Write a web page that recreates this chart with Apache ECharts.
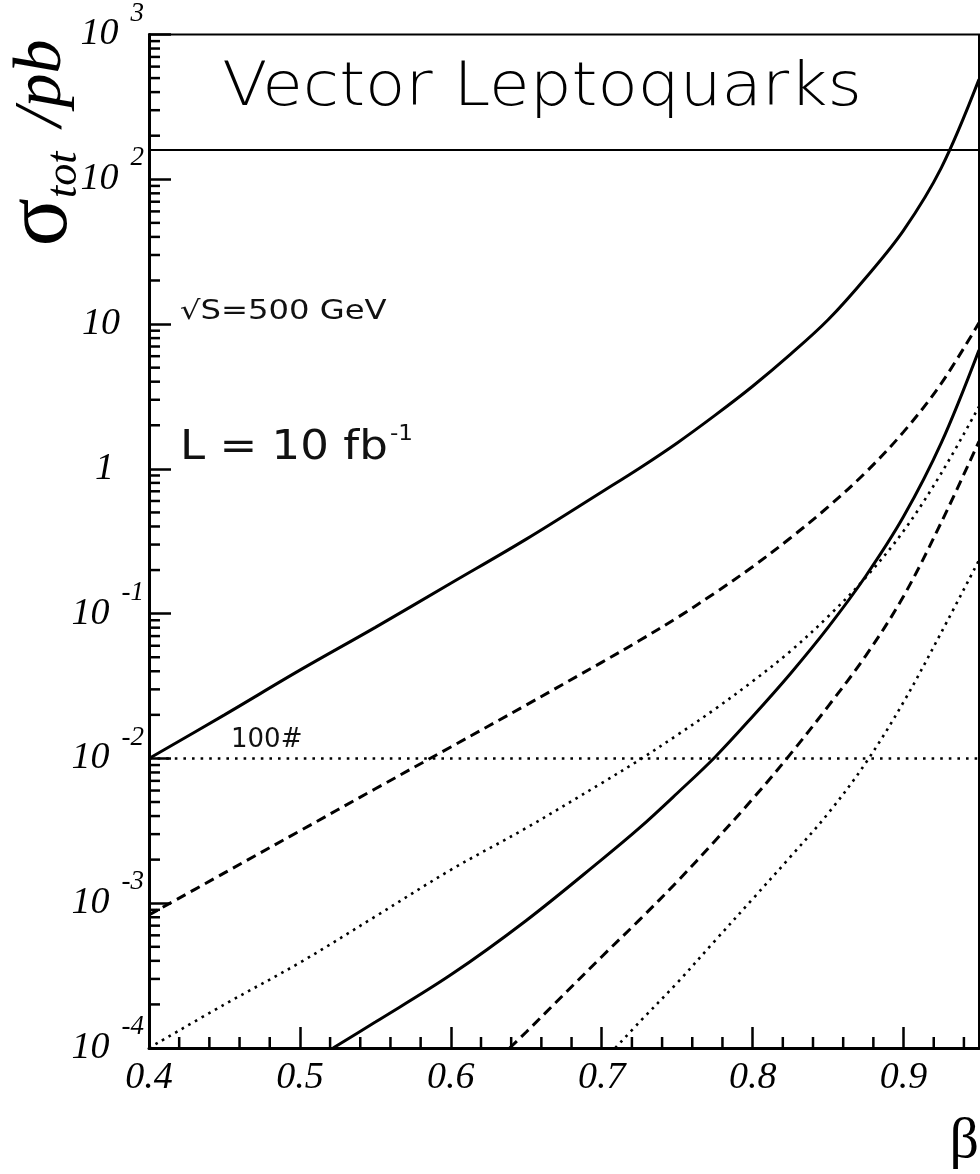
<!DOCTYPE html>
<html lang="en">
<head>
<meta charset="UTF-8">
<title>Vector Leptoquarks</title>
<script src="https://cdn.jsdelivr.net/npm/echarts@6/dist/echarts.min.js"></script>
<style>
  html, body { margin: 0; padding: 0; background: #fff; }
  #main { width: 980px; height: 1174px; }
</style>
</head>
<body>
<div id="main"></div>
<script type="text/javascript">
// beta values and sigma_tot (pb)
var betaUpper   = [0.40, 0.45, 0.50, 0.55, 0.60, 0.65, 0.70, 0.725, 0.75, 0.775, 0.80, 0.825, 0.85, 0.875, 0.90, 0.925, 0.95];
var solidUpper  = [0.0100, 0.0200, 0.0407, 0.0804, 0.162, 0.327, 0.692, 1.01, 1.51, 2.34, 3.72, 6.17, 10.7, 20.9, 44.4, 120, 490];
var dashedUpper = [8.3e-4, 1.62e-3, 3.16e-3, 6.17e-3, 0.0120, 0.0234, 0.0461, 0.0652, 0.0938, 0.139, 0.211, 0.333, 0.546, 0.948, 1.80, 3.89, 10.2];
var dottedUpper = [1.0e-4, 2.0e-4, 3.89e-4, 8.1e-4, 1.70e-3, 3.31e-3, 6.76e-3, 9.77e-3, 0.0145, 0.0219, 0.0341, 0.055, 0.0955, 0.178, 0.372, 0.933, 2.69];

var betaSolidLower = [0.522, 0.55, 0.60, 0.65, 0.70, 0.725, 0.75, 0.775, 0.80, 0.825, 0.85, 0.875, 0.90, 0.925, 0.95];
var solidLower     = [1.0e-4, 1.51e-4, 3.2e-4, 7.6e-4, 2.0e-3, 3.31e-3, 5.75e-3, 0.0102, 0.0195, 0.0385, 0.0804, 0.182, 0.468, 1.51, 6.61];

var betaDashedLower = [0.639, 0.65, 0.70, 0.725, 0.75, 0.775, 0.80, 0.825, 0.85, 0.875, 0.90, 0.925, 0.95];
var dashedLower     = [1.0e-4, 1.29e-4, 4.27e-4, 7.67e-4, 1.41e-3, 2.69e-3, 5.25e-3, 0.0107, 0.0229, 0.0513, 0.132, 0.427, 1.55];

var betaDottedLower = [0.709, 0.725, 0.75, 0.775, 0.80, 0.825, 0.85, 0.875, 0.90, 0.925, 0.95];
var dottedLower     = [1.0e-4, 1.51e-4, 2.82e-4, 5.5e-4, 1.07e-3, 2.09e-3, 4.17e-3, 9.33e-3, 0.0245, 0.0741, 0.234];

var eventLevel = 0.01;      // 100 events at 10 fb^-1
var titleBoxFloor = 160;    // lower edge of the title box

var xMinorTicks = [0.42, 0.44, 0.46, 0.48, 0.52, 0.54, 0.56, 0.58, 0.62, 0.64, 0.66, 0.68,
                   0.72, 0.74, 0.76, 0.78, 0.82, 0.84, 0.86, 0.88, 0.92, 0.94];
var yMinorTicks = [];
for (var e = -4; e < 3; e++) {
  for (var k = 2; k <= 9; k++) yMinorTicks.push(k * Math.pow(10, e));
}

function pairs(xs, ys) {
  var out = [];
  for (var i = 0; i < xs.length; i++) out.push([xs[i], ys[i]]);
  return out;
}

var dashPattern = { solid: 'solid', dashed: [10, 6], dotted: [2.6, 5] };

function curve(name, xs, ys, kind) {
  return {
    name: name, type: 'line', data: pairs(xs, ys),
    showSymbol: false, smooth: 0.35, silent: true, z: 3,
    lineStyle: { color: '#000', width: kind === 'dotted' ? 2.6 : 3, type: dashPattern[kind] }
  };
}

var serifItalic = { fontFamily: 'Liberation Serif', fontStyle: 'italic', color: '#000' };
var gothic = 'DejaVu Sans';

var myChart = echarts.init(document.getElementById('main'));

var option = {
  animation: false,
  backgroundColor: '#fff',
  grid: { left: 149, right: 1, top: 29, bottom: 126, show: true, borderColor: '#000', borderWidth: 2 },
  xAxis: {
    type: 'value', min: 0.4, max: 0.95, interval: 0.1,
    axisLine: { lineStyle: { color: '#000', width: 3 } },
    axisTick: { inside: true, length: 21, lineStyle: { color: '#000', width: 2.5 } },
    splitLine: { show: false },
    axisLabel: Object.assign({
      margin: 11, fontSize: 38, showMaxLabel: false,
      formatter: function (v) { return v.toFixed(1); }
    }, serifItalic)
  },
  yAxis: {
    type: 'log', logBase: 10, min: 1e-4, max: 1000,
    axisLine: { lineStyle: { color: '#000', width: 3 } },
    axisTick: { inside: true, length: 22, lineStyle: { color: '#000', width: 2.5 } },
    splitLine: { show: false },
    axisLabel: {
      align: 'right', margin: 5,
      formatter: function (v) {
        var p = Math.round(Math.log10(v));
        if (p === 0) return '{one|1}';
        if (p === 1) return '{ten|10}';
        return '{b|10}{s|' + p + '}';
      },
      rich: {
        b: Object.assign({ fontSize: 38 }, serifItalic),
        one: Object.assign({ fontSize: 38, padding: [0, 30, 0, 0] }, serifItalic),
        ten: Object.assign({ fontSize: 38, padding: [0, 24, 0, 0] }, serifItalic),
        s: Object.assign({ fontSize: 27, padding: [0, 0, 42, 12] }, serifItalic)
      }
    }
  },
  series: [
    curve('solid upper', betaUpper, solidUpper, 'solid'),
    curve('dashed upper', betaUpper, dashedUpper, 'dashed'),
    curve('dotted upper', betaUpper, dottedUpper, 'dotted'),
    curve('solid lower', betaSolidLower, solidLower, 'solid'),
    curve('dashed lower', betaDashedLower, dashedLower, 'dashed'),
    curve('dotted lower', betaDottedLower, dottedLower, 'dotted'),
    {
      type: 'line', data: [], silent: true,
      markLine: {
        silent: true, symbol: 'none', animation: false,
        data: [
          { yAxis: titleBoxFloor, lineStyle: { type: 'solid', width: 2, color: '#000' }, label: { show: false } },
          {
            yAxis: eventLevel, lineStyle: { type: [2.6, 6], width: 2.6, color: '#000' },
            label: {
              show: true, position: 'insideStartTop', formatter: '100#',
              fontFamily: gothic, fontSize: 26, color: '#111', padding: [0, 0, 0, 77], distance: 5
            }
          }
        ]
      }
    },
    {
      type: 'custom', silent: true, z: 4,
      data: yMinorTicks.map(function (v) { return [0.4, v]; }),
      renderItem: function (params, api) {
        var p = api.coord([api.value(0), api.value(1)]);
        return { type: 'line', shape: { x1: p[0], y1: p[1], x2: p[0] + 11, y2: p[1] },
                 style: { stroke: '#000', lineWidth: 2.5 } };
      }
    },
    {
      type: 'custom', silent: true, z: 4,
      data: xMinorTicks.map(function (v) { return [v, 1e-4]; }),
      renderItem: function (params, api) {
        var p = api.coord([api.value(0), api.value(1)]);
        return { type: 'line', shape: { x1: p[0], y1: p[1], x2: p[0], y2: p[1] - 11 },
                 style: { stroke: '#000', lineWidth: 2.5 } };
      }
    }
  ],
  graphic: [
    { type: 'text', x: 542, y: 89, scaleX: 1.1, style: { text: 'Vector Leptoquarks', fontFamily: gothic, fontWeight: 200,
        fontSize: 60, fill: '#000', textAlign: 'center', textVerticalAlign: 'middle' } },
    { type: 'text', x: 180, y: 312, scaleX: 1.24, style: { text: '\u221AS=500 GeV', fontFamily: gothic,
        fontSize: 26, fill: '#111', textAlign: 'left', textVerticalAlign: 'middle' } },
    { type: 'text', x: 180, y: 448, scaleX: 1.1, style: { text: '{m|L = 10 fb}{u|-1}', textAlign: 'left', textVerticalAlign: 'middle',
        rich: { m: { fontFamily: gothic, fontSize: 41, fill: '#111' },
                u: { fontFamily: gothic, fontSize: 21, fill: '#111', padding: [0, 0, 26, 2] } } } },
    { type: 'text', x: 979, y: 1142, style: { text: '\u03B2', fontFamily: 'Liberation Serif', fontSize: 58,
        fill: '#000', textAlign: 'right', textVerticalAlign: 'middle' } },
    { type: 'text', x: 42, y: 143, rotation: Math.PI / 2, style: {
        text: '{s|\u03C3}{t|tot}{p| /pb}', textAlign: 'center', textVerticalAlign: 'middle',
        rich: {
          s: { fontFamily: 'Liberation Serif', fontSize: 90, fill: '#000' },
          t: { fontFamily: 'Liberation Serif', fontStyle: 'italic', fontSize: 44, fill: '#000', padding: [44, 8, 0, 0] },
          p: { fontFamily: 'Liberation Serif', fontStyle: 'italic', fontSize: 68, fill: '#000' }
        } } }
  ]
};

myChart.setOption(option);
</script>
</body>
</html>
